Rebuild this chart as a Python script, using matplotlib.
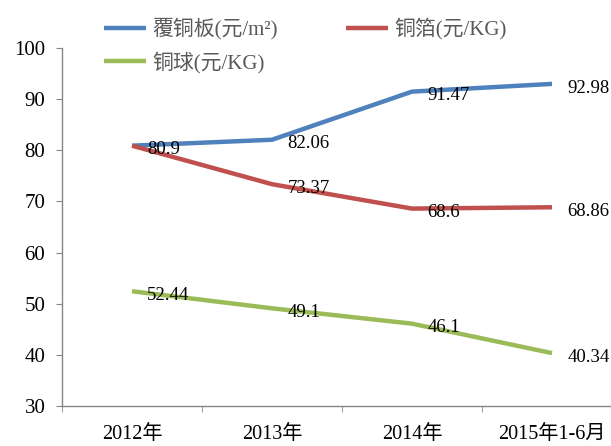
import matplotlib
matplotlib.use("Agg")
import matplotlib.pyplot as plt

plt.rcParams['font.family'] = ['Liberation Serif', 'Noto Sans CJK SC', 'DejaVu Sans']

categories = ["2012年", "2013年", "2014年", "2015年1-6月"]
ccl = [80.9, 82.06, 91.47, 92.98]
foil = [80.9, 73.37, 68.6, 68.86]
ball = [52.44, 49.1, 46.1, 40.34]
names = ["覆铜板(元/m²)", "铜箔(元/KG)", "铜球(元/KG)"]
colors = ["#4F81BD", "#C0504D", "#9BBB59"]
yticks = [30, 40, 50, 60, 70, 80, 90, 100]

W, H = 611, 446
fig = plt.figure(figsize=(W / 100, H / 100), dpi=100)
ax = fig.add_axes([62 / W, 40 / H, 560 / W, 358 / H])

x = list(range(len(categories)))
handles = []
seen = set()
for vals, name, c in zip([ccl, foil, ball], names, colors):
    h, = ax.plot(x, vals, color=c, lw=3.2, solid_capstyle='butt', label=name)
    handles.append(h)
    for xi, v in zip(x, vals):
        if (xi, v) in seen:
            continue
        seen.add((xi, v))
        ax.annotate(f"{v:g}", (xi, v), xytext=(11, -3), textcoords='offset points',
                    ha='left', va='center', fontsize=13.5, color='black')

ax.set_xlim(-0.5, 3.5)
ax.set_ylim(30, 100)
ax.set_yticks(yticks)
ax.set_yticklabels([str(t) for t in yticks])
ax.set_xticks(x)
ax.set_xticklabels(categories)
ax.set_xticks([-0.5, 0.5, 1.5, 2.5], minor=True)
ax.tick_params(axis='x', which='major', length=0, pad=14, labelsize=14.5)
ax.tick_params(axis='x', which='minor', length=4, color='#868686', direction='out')
ax.tick_params(axis='y', length=4, color='#868686', direction='out', pad=8, labelsize=15)
for s in ['top', 'right']:
    ax.spines[s].set_visible(False)
for s in ['left', 'bottom']:
    ax.spines[s].set_color('#868686')
    ax.spines[s].set_linewidth(1)

order = [0, 2, 1]
leg = fig.legend([handles[i] for i in order], [names[i] for i in order],
                 ncol=2, loc='upper left', bbox_to_anchor=(104 / W, 1 - 18 / H),
                 frameon=False, fontsize=15, handlelength=2.0, handletextpad=0.3,
                 columnspacing=3.3, labelspacing=0.55, borderpad=0, borderaxespad=0)
for t in leg.get_texts():
    t.set_color('#595959')

fig.savefig("out.png", dpi=100)
